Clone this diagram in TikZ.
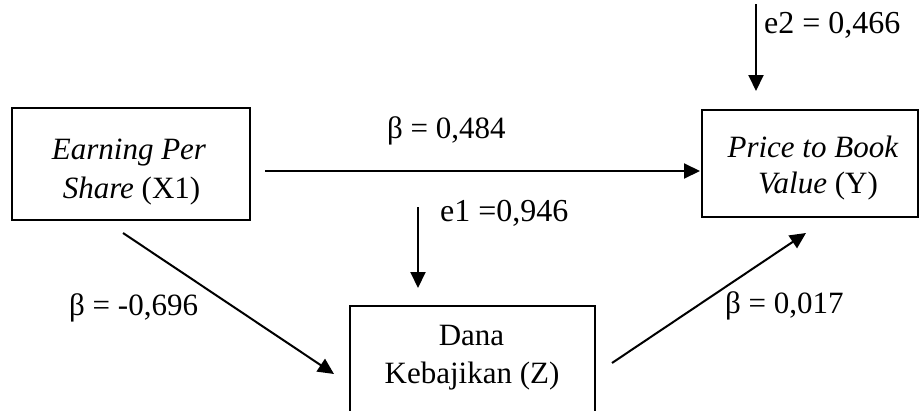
\documentclass[tikz,border=0pt]{standalone}
\usepackage{fontspec}
\setmainfont{Liberation Serif}
\usetikzlibrary{arrows.meta}
\begin{document}
\begin{tikzpicture}[x=1pt,y=-1pt,
  varbox/.style={draw,line width=1.6pt,inner sep=0pt},
  boxtxt/.style={font=\fontsize{31}{36}\selectfont,inner sep=0pt,anchor=base},
  lbl/.style={font=\fontsize{31}{36}\selectfont,inner sep=0pt,anchor=base west},
  elbl/.style={font=\fontsize{32}{36}\selectfont,inner sep=0pt,anchor=base west},
  arr/.style={line width=2pt,-{Triangle[length=16pt,width=15pt]}}]
\useasboundingbox (0,0) rectangle (919,410);
% boxes
\node[varbox,minimum width=238pt,minimum height=112pt] (X1) at (131,164) {};
\node[varbox,minimum width=216pt,minimum height=107pt] (Y) at (810,163.5) {};
\node[varbox,minimum width=245pt,minimum height=140pt,anchor=north] (Z) at (472.5,305) {};
% box texts
\node[boxtxt] (X1a) at (129,159) {\textit{Earning Per}};
\node[boxtxt] (X1b) at (131.5,198) {\textit{Share} (X1)};
\node[boxtxt] (Ya) at (813,157) {\textit{Price to Book}};
\node[boxtxt] (Yb) at (818,193) {\textit{Value} (Y)};
\node[boxtxt] (Za) at (471.5,345) {Dana};
\node[boxtxt] (Zb) at (472,383) {Kebajikan (Z)};
% arrow ends
\coordinate (h0) at (265,171);
\coordinate (h1) at (700,171);
\coordinate (e2s) at (756,4);
\coordinate (e2e) at (756,91);
\coordinate (e1s) at (418,207);
\coordinate (e1e) at (418,288);
\coordinate (d1s) at (123,233);
\coordinate (d1e) at (334,374);
\coordinate (d2s) at (612,363);
\coordinate (d2e) at (806,233);
\draw[arr] (h0) -- (h1);
\draw[arr] (e2s) -- (e2e);
\draw[arr] (e1s) -- (e1e);
\draw[arr] (d1s) -- (d1e);
\draw[arr] (d2s) -- (d2e);
% labels
\node[lbl] (l1) at (387,138) {β = 0,484};
\node[lbl] (l2) at (69,315) {β = -0,696};
\node[lbl] (l3) at (725,313) {β = 0,017};
\node[elbl] (l4) at (440,221) {e1 =0,946};
\node[elbl] (l5) at (764,33) {e2 = 0,466};
\end{tikzpicture}
\end{document}
